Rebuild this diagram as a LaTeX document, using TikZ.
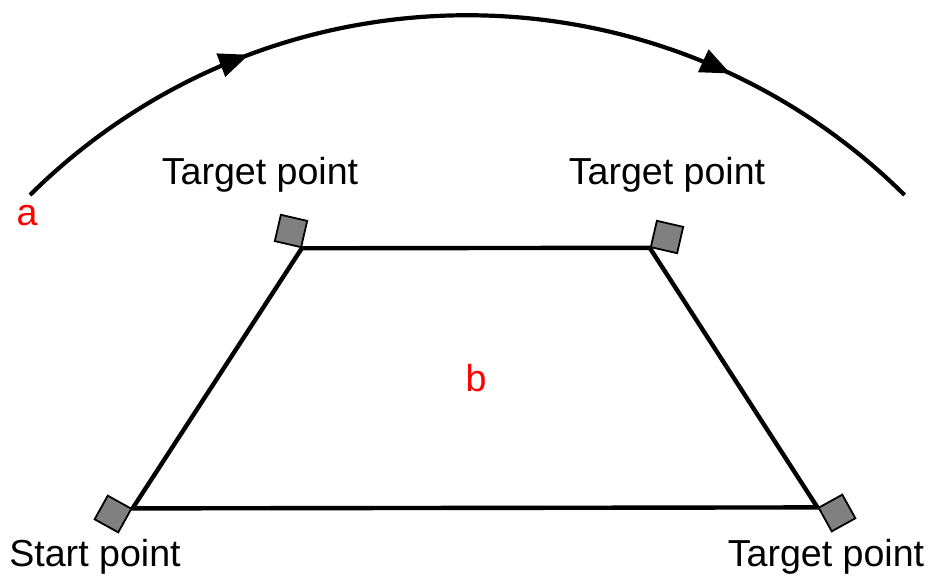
\documentclass[tikz,border=0pt]{standalone}
\usepackage{fontspec}
\setmainfont{Liberation Sans}
\usetikzlibrary{arrows.meta,decorations.markings,backgrounds}
\usepackage{xcolor}
\definecolor{handle}{HTML}{808080}
\definecolor{marker}{HTML}{FF0000}

\begin{document}
\begin{tikzpicture}[x=0.5pt, y=-0.5pt,
      pointbox/.style={draw=black, fill=handle, line width=0.9pt, minimum size=13.5pt,
                       inner sep=0pt},
      tag/.style={font=\fontsize{18.8}{22}\selectfont, inner sep=0pt},
      letter/.style={font=\fontsize{18.8}{22}\selectfont, text=marker, inner sep=0pt},
      edge/.style={line width=2.2pt, line join=miter},
      path/.style={line width=2.1pt, postaction={decorate}, decoration={markings,
                   mark=at position 0.27 with {\arrow{Triangle[length=15pt,width=12pt]}},
                   mark=at position 0.78 with {\arrow{Triangle[length=15pt,width=12pt]}}}}
    ]
      \useasboundingbox (0,0) rectangle (930,579);

      % handles at the corners of the path
      \node[pointbox, rotate=-13] (p1) at (291,231) {};
      \node[pointbox, rotate=-13] (p2) at (667,237) {};
      \node[pointbox, rotate=-29] (p0) at (113,514) {};
      \node[pointbox, rotate=29]  (p3) at (837,513) {};

      % edges behind the handles
      \begin{pgfonlayer}{background}
      \draw[edge] (p0.north east) -- (p1.south east) -- (p2.south west)
                  -- (p3.north west) -- cycle;
      \end{pgfonlayer}

      \node[tag] (t1) at (260,175) {Target point};
      \node[tag] (t2) at (667,175) {Target point};
      \node[tag] (t0) at (95,557) {Start point};
      \node[tag] (t3) at (826,557) {Target point};

      \node[letter] (la) at (27,216) {a};
      \node[letter] (lb) at (476,378) {b};

      \coordinate (a0) at (30,195);
      \draw[path] (a0) arc[start angle=-134.7, end angle=-45.3, radius=621.7];
    \end{tikzpicture}
\end{document}
